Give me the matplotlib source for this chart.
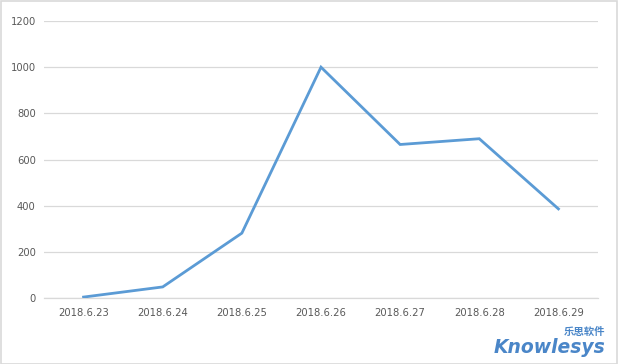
import matplotlib
matplotlib.use("Agg")
import matplotlib.pyplot as plt
from matplotlib.patches import Rectangle

categories = ["2018.6.23", "2018.6.24", "2018.6.25", "2018.6.26", "2018.6.27", "2018.6.28", "2018.6.29"]
values = [4, 48, 281, 1000, 665, 690, 386]
yticks = [0, 200, 400, 600, 800, 1000, 1200]

plt.rcParams['font.family'] = ['DejaVu Sans', 'Noto Sans CJK SC']

W, H = 618, 364
fig = plt.figure(figsize=(W / 100, H / 100), dpi=100)
ax = fig.add_axes([44 / W, (H - 298) / H, (598 - 44) / W, (298 - 21) / H])

x = list(range(len(categories)))
ax.plot(x, values, color="#5b9bd5", lw=2.0, solid_joinstyle="miter", zorder=3)
ax.set_xlim(-0.5, len(categories) - 0.5)
ax.set_ylim(0, 1200)
ax.set_yticks(yticks)
ax.set_yticklabels([str(v) for v in yticks])
ax.set_xticks(x)
ax.set_xticklabels(categories)
ax.grid(axis="y", color="#d9d9d9", lw=0.9)
ax.set_axisbelow(True)
for s in ["top", "right", "left"]:
    ax.spines[s].set_visible(False)
ax.spines["bottom"].set_color("#d9d9d9")
ax.spines["bottom"].set_linewidth(0.9)
ax.tick_params(axis="both", length=0, labelsize=7.2, colors="#595959")
ax.tick_params(axis="y", pad=6)
ax.tick_params(axis="x", pad=7)

# figure border
fig.patches.append(Rectangle((0.5 / W, 0.5 / H), 1 - 1.5 / W, 1 - 1.5 / H,
                             transform=fig.transFigure, fill=False,
                             edgecolor="#d9d9d9", lw=1.2))

# watermark
fig.text(605 / W, (H - 353) / H, "Knowlesys", ha="right", va="baseline",
         fontsize=13.5, fontweight="bold", fontstyle="italic", color="#4a86c8",
         family="DejaVu Sans")
fig.text(605 / W, (H - 335) / H, "乐思软件", ha="right", va="baseline",
         fontsize=7.5, color="#4a86c8", family=["Noto Sans CJK SC"], fontweight="bold")

fig.savefig("out.png", dpi=100)
